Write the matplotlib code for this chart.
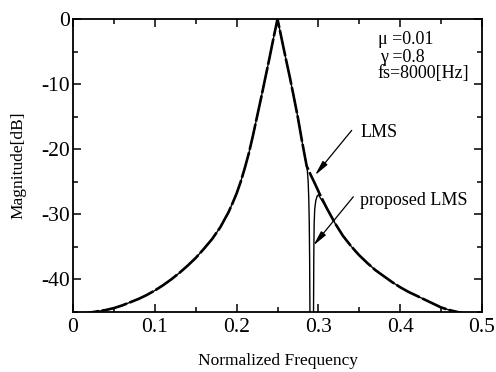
import matplotlib
matplotlib.use("Agg")
import matplotlib.pyplot as plt
from matplotlib.ticker import MultipleLocator

plt.rcParams['font.family'] = ['Liberation Serif', 'DejaVu Serif']
plt.rcParams['axes.unicode_minus'] = False

# ---- data ----
# LMS response (dB) vs normalized frequency
freq_lms = [0.000, 0.010, 0.020, 0.030, 0.040, 0.050, 0.060, 0.070, 0.080, 0.090,
            0.100, 0.110, 0.120, 0.130, 0.140, 0.150, 0.160, 0.170, 0.180, 0.190,
            0.195, 0.200, 0.205, 0.210, 0.215, 0.220, 0.225, 0.230, 0.235, 0.240,
            0.245, 0.250,
            0.255, 0.260, 0.265, 0.270, 0.275, 0.280, 0.2857, 0.2908, 0.2958, 0.302,
            0.310, 0.320, 0.330, 0.340, 0.350, 0.360, 0.370, 0.380, 0.390, 0.400,
            0.410, 0.420, 0.430, 0.440, 0.450, 0.460, 0.470, 0.480, 0.490, 0.500]
mag_lms = [-45.5, -45.3, -45.1, -44.9, -44.7, -44.4, -44.0, -43.5, -43.0, -42.4,
           -41.7, -40.9, -40.0, -39.0, -37.9, -36.7, -35.3, -33.8, -32.0, -29.7,
           -28.3, -26.8, -25.0, -22.9, -20.6, -17.9, -15.0, -12.1, -9.1, -6.1,
           -3.0, 0.0,
           -3.0, -6.0, -8.9, -12.0, -15.2, -18.8, -22.6, -24.0, -25.3, -27.0,
           -29.0, -31.3, -33.3, -34.9, -36.3, -37.5, -38.6, -39.5, -40.4, -41.2,
           -41.9, -42.5, -43.1, -43.7, -44.3, -44.7, -45.0, -45.3, -45.5, -45.7]

# proposed LMS: identical to LMS except for the notch region below
notch_freq = [0.2865, 0.2875, 0.2882, 0.2888, 0.2893, 0.2897, 0.2920,
              0.2940, 0.2944, 0.2948, 0.2955, 0.2968, 0.2985, 0.3000, 0.3030, 0.3060]
notch_mag = [-23.3, -25.0, -27.5, -31.0, -37.0, -46.0, -70.0,
             -46.0, -36.0, -31.5, -29.2, -27.9, -27.2, -27.0, -27.6, -28.2]

x_ticks = [0, 0.1, 0.2, 0.3, 0.4, 0.5]
x_ticklabels = ['0', '0.1', '0.2', '0.3', '0.4', '0.5']
y_ticks = [0, -10, -20, -30, -40]
y_ticklabels = ['0', '-10', '-20', '-30', '-40']

params_text = ['\u03bc =0.01', '\u03b3 =0.8', 'fs=8000[Hz]']

# build proposed series
pairs = [(f, m) for f, m in zip(freq_lms, mag_lms) if f <= 0.2857 or f >= 0.310]
pairs += list(zip(notch_freq, notch_mag))
pairs.sort()
freq_prop = [p[0] for p in pairs]
mag_prop = [p[1] for p in pairs]

# ---- figure ----
fig = plt.figure(figsize=(4.96, 3.72), dpi=100)
ax = fig.add_axes([73/496, 1-312/372, (482-73)/496, (312-19)/372])

ax.plot(freq_lms, mag_lms, color='black', lw=1.9, dashes=(10, 1.0), zorder=2)
ax.plot(freq_prop, mag_prop, color='black', lw=1.0, zorder=3)

ax.set_xlim(0, 0.5)
ax.set_ylim(-45, 0)
ax.set_xticks(x_ticks)
ax.set_xticklabels(x_ticklabels)
ax.set_yticks(y_ticks)
ax.set_yticklabels(y_ticklabels)
ax.xaxis.set_minor_locator(MultipleLocator(0.05))
ax.yaxis.set_minor_locator(MultipleLocator(5))
ax.tick_params(which='both', direction='in', top=True, right=True, width=1.1)
ax.tick_params(which='major', length=6)
ax.tick_params(which='minor', length=3.5)
ax.tick_params(axis='x', which='major', labelsize=15.5, pad=4)
ax.tick_params(axis='y', which='major', labelsize=15.5, pad=2)
for s in ax.spines.values():
    s.set_linewidth(1.3)

ax.set_xlabel('Normalized Frequency', fontsize=12.5)
ax.set_ylabel('Magnitude[dB]', fontsize=12.5)
ax.xaxis.set_label_coords(0.5, -0.14)
ax.yaxis.set_label_coords(-0.114, 0.5)

# parameter text
ax.text(0.373, -3.2, params_text[0], fontsize=13, va='center', ha='left')
ax.text(0.375, -5.9, params_text[1], fontsize=13, va='center', ha='left')
ax.text(0.3716, -8.3, params_text[2], fontsize=13, va='center', ha='left')

# annotations
arrow = dict(arrowstyle='-|>,head_width=0.18,head_length=0.9', color='black', lw=0.9,
             shrinkA=0, shrinkB=0)
ax.annotate('', xy=(0.2958, -24.0), xytext=(0.3407, -17.1), arrowprops=arrow)
ax.annotate('', xy=(0.2938, -34.8), xytext=(0.3427, -27.3), arrowprops=arrow)
ax.text(0.3509, -17.5, 'LMS', fontsize=13, va='center', ha='left')
ax.text(0.3509, -27.9, 'proposed LMS', fontsize=13, va='center', ha='left')

fig.savefig('out.png', dpi=100)
